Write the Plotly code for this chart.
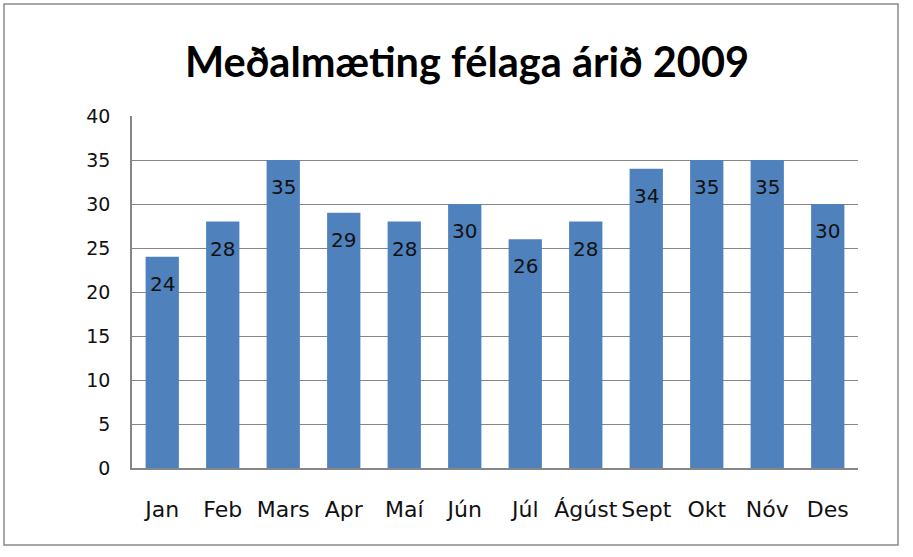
import plotly.graph_objects as go

months = ["Jan", "Feb", "Mars", "Apr", "Maí", "Jún", "Júl", "Ágúst", "Sept", "Okt", "Nóv", "Des"]
values = [24, 28, 35, 29, 28, 30, 26, 28, 34, 35, 35, 30]
y_ticks = [0, 5, 10, 15, 20, 25, 30, 35, 40]
title_text = "Meðalmæting félaga árið 2009"

W, H = 913, 557
L, R, T, B = 132, 55, 116, 89
pw, ph = W - L - R, H - T - B

fig = go.Figure()
fig.add_trace(go.Bar(
    x=months, y=values, marker=dict(color="#4F81BD", line=dict(width=0)),
    hoverinfo="x+y",
))

for m, v in zip(months, values):
    fig.add_annotation(x=m, y=v, text=str(v), showarrow=False, yanchor="middle",
                       yshift=-27, font=dict(family="DejaVu Sans", size=20, color="#111"))

# outer chart border
def px_x(p):
    return (p - L) / pw
def px_y(p):
    return (H - B - p) / ph

fig.add_shape(type="rect", xref="paper", yref="paper",
              x0=px_x(4), x1=px_x(898), y0=px_y(545), y1=px_y(4),
              line=dict(color="#8a8a8a", width=1.5), layer="below")

fig.update_layout(
    width=W, height=H,
    margin=dict(l=L, r=R, t=T, b=B),
    paper_bgcolor="white", plot_bgcolor="white",
    bargap=0.45,
    showlegend=False,
    title=dict(text="<b>" + title_text + "</b>", x=467 / W, xanchor="center", xref="container",
               y=1 - 62 / H, yanchor="middle", yref="container",
               font=dict(family="Lato", size=41.5, color="#000")),
    xaxis=dict(showline=True, linecolor="#868686", linewidth=1.5, ticks="",
               tickfont=dict(family="DejaVu Sans", size=22, color="#111"),
               ticklabelstandoff=21, showgrid=False, tickangle=0, automargin=False),
    yaxis=dict(range=[0, 40], tickvals=y_ticks, showline=True, linecolor="#868686",
               linewidth=1.5, showgrid=True, gridcolor="#868686", gridwidth=1,
               ticks="", tickfont=dict(family="DejaVu Sans", size=19, color="#111"),
               ticklabelstandoff=16, zeroline=False, automargin=False),
)

fig.write_html("out.html")
